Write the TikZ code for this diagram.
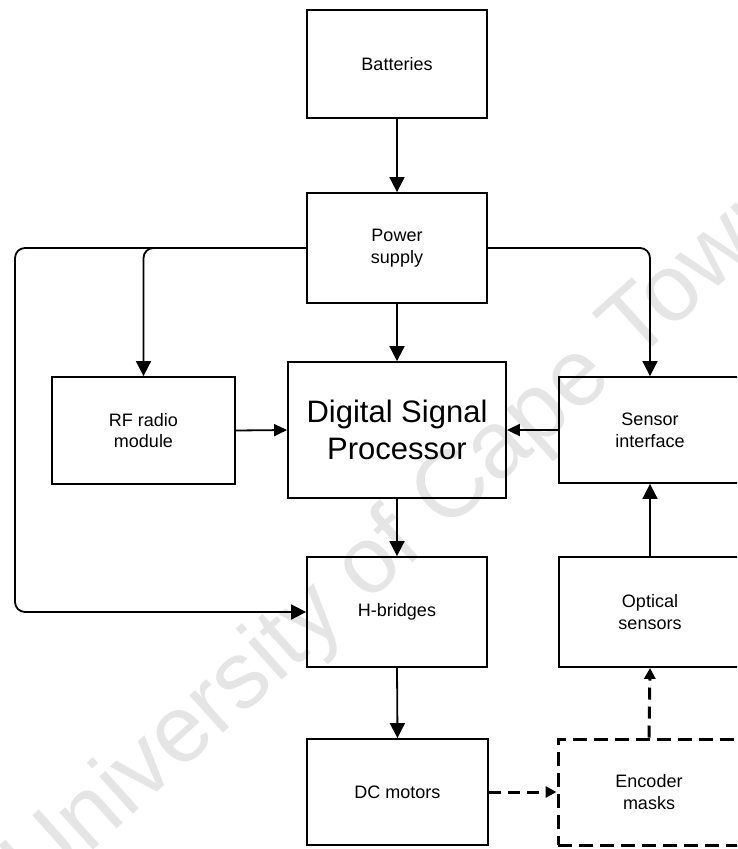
\documentclass[tikz,border=0pt]{standalone}
\usepackage{fontspec}
\setmainfont{Liberation Sans}
\usetikzlibrary{arrows.meta}
\tikzset{
  box/.style={draw=black, line width=1.8pt, inner sep=0pt, align=center,
    font=\fontsize{18}{21.6}\selectfont},
  conn/.style={draw=black, line width=1.8pt, -{Triangle[length=15pt,width=15pt]}},
  connsm/.style={conn, -{Triangle[length=13pt,width=12pt]}},
  dconn/.style={draw=black, line width=3pt, dash pattern=on 12pt off 7pt,
    -{Triangle[length=11pt,width=11pt]}},
}
\begin{document}
\begin{tikzpicture}[x=1pt,y=-1pt]
\useasboundingbox (0,0) rectangle (737,849);
\clip (0,0) rectangle (737,849);
% watermark
\node[text=black!10, font=\fontsize{95}{95}\selectfont, rotate=42, anchor=center] (wm) at (402,539) {University of Cape Town};
% boxes
\node[box, minimum width=180pt, minimum height=108pt] (bat) at (397,64) {Batteries};
\node[box, minimum width=180pt, minimum height=110pt] (pow) at (397,248) {Power\\supply};
\node[box, minimum width=183pt, minimum height=107pt] (rf) at (143.5,430.5) {RF radio\\module};
\node[box, minimum width=218pt, minimum height=136pt, font=\fontsize{31}{37}\selectfont] (dsp) at (397,430) {Digital Signal\\Processor};
\node[box, minimum width=182pt, minimum height=106pt] (sen) at (650,430) {Sensor\\interface};
\node[box, minimum width=180pt, minimum height=110pt] (hb) at (397,612) {H-bridges};
\node[box, minimum width=182pt, minimum height=110pt] (opt) at (650,612) {Optical\\sensors};
\node[box, minimum width=181pt, minimum height=106pt] (dc) at (397.5,792) {DC motors};
\node[box, minimum width=182pt, minimum height=106pt, line width=3pt, dash pattern=on 14pt off 7pt] (enc) at (649,792) {Encoder\\masks};
% connectors
\coordinate (lt) at (15,248);
\coordinate (lb) at (15,612);
\draw[conn] (bat.south) -- (pow.north);
\draw[conn] (pow.south) -- (dsp.north);
\draw[conn, rounded corners=10pt] (pow.west) -- (lt) -- (lb) -- (hb.west);
\draw[conn, rounded corners=10pt] (pow.west) -| (rf.north);
\draw[conn, rounded corners=10pt] (pow.east) -| (sen.north);
\draw[connsm] (rf.east) -- (dsp.west);
\draw[connsm] (sen.west) -- (dsp.east);
\draw[conn] (dsp.south) -- (hb.north);
\draw[conn] (opt.north) -- (sen.south);
\draw[conn] (hb.south) -- (dc.north);
\draw[dconn] (dc.east) -- (enc.west);
\draw[dconn] (enc.north) -- (opt.south);
\end{tikzpicture}
\end{document}
